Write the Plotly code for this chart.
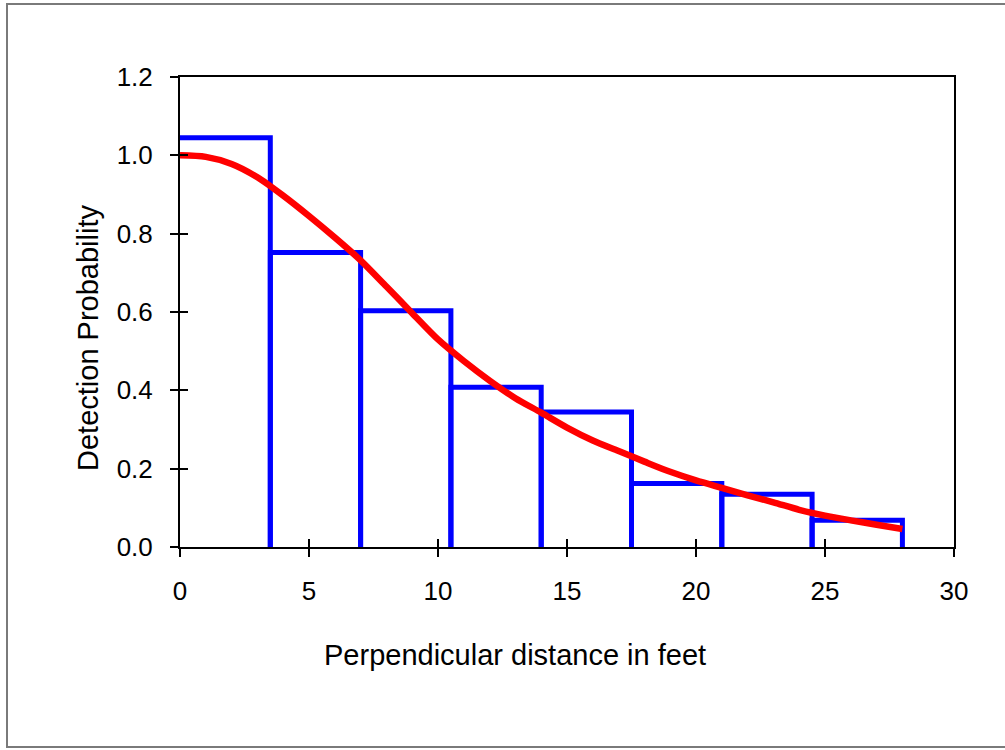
import plotly.graph_objects as go

# Histogram bins (perpendicular distance, feet) and detection proportions
bin_edges = [0, 3.5, 7, 10.5, 14, 17.5, 21, 24.5, 28]
bin_heights = [1.045, 0.752, 0.603, 0.408, 0.345, 0.162, 0.135, 0.068]

# Fitted detection-probability curve
curve_x = [0, 1, 2, 3, 4, 5, 6, 7, 8, 9, 10, 11, 12, 13, 14, 15, 16, 17, 18, 19, 20,
           21, 22, 23, 24, 25, 26, 27, 28]
curve_y = [1.0, 0.996, 0.978, 0.944, 0.897, 0.845, 0.79, 0.732, 0.665, 0.597, 0.53,
           0.475, 0.425, 0.38, 0.343, 0.305, 0.272, 0.245, 0.218, 0.192, 0.17,
           0.151, 0.132, 0.114, 0.095, 0.08, 0.068, 0.057, 0.046]

x_ticks = [0, 5, 10, 15, 20, 25, 30]
y_ticks = [0.0, 0.2, 0.4, 0.6, 0.8, 1.0, 1.2]

# Build histogram outline path (no bottom edge; the edge on the y axis is the axis itself)
hx, hy = [], []
for i, h in enumerate(bin_heights):
    l, r = bin_edges[i], bin_edges[i + 1]
    if l == 0:
        hx += [l, r, r, None]
        hy += [h, h, 0, None]
    else:
        hx += [l, l, r, r, None]
        hy += [0, h, h, 0, None]

fig = go.Figure()
fig.add_trace(go.Scatter(x=hx, y=hy, mode="lines",
                         line=dict(color="#0000ff", width=5),
                         connectgaps=False, hoverinfo="skip", cliponaxis=True))
fig.add_trace(go.Scatter(x=curve_x, y=curve_y, mode="lines",
                         line=dict(color="#ff0000", width=6.5, shape="spline", smoothing=0.8),
                         cliponaxis=False))

font = dict(family="Liberation Sans, Arial, sans-serif", color="black")
W, H = 1005, 750
L, R, T, B = 180, 51, 77, 203
pw, ph = W - L - R, H - T - B

def px(xp):
    return (xp - L) / pw

def py(yp):
    return (H - B - yp) / ph

axis_common = dict(showgrid=False, zeroline=False, showline=True, linecolor="black",
                   linewidth=2, ticks="outside", ticklen=8, tickwidth=2, tickcolor="black",
                   layer="above traces",
                   tickfont=dict(size=26, **font))

fig.update_layout(
    width=W, height=H, autosize=False,
    margin=dict(l=L, r=R, t=T, b=B),
    paper_bgcolor="white", plot_bgcolor="white",
    showlegend=False,
    xaxis=dict(range=[0, 30], tickvals=x_ticks, mirror=True, ticklabelstandoff=12,
               **axis_common),
    yaxis=dict(range=[0, 1.2], tickvals=y_ticks, tickformat=".1f", mirror=True,
               ticklabelstandoff=12, **axis_common),
    xaxis2=dict(range=[0, 30], tickvals=x_ticks, overlaying="x", anchor="y", side="bottom",
                showgrid=False, zeroline=False, showline=False, showticklabels=False,
                ticks="inside", ticklen=8, tickwidth=2, tickcolor="black"),
    yaxis2=dict(range=[0, 1.2], tickvals=y_ticks, overlaying="y", anchor="x", side="left",
                showgrid=False, zeroline=False, showline=False, showticklabels=False,
                ticks="inside", ticklen=8, tickwidth=2, tickcolor="black"),
    annotations=[
        dict(text="Perpendicular distance in feet", xref="paper", yref="paper",
             x=px(515), y=py(655), xanchor="center", yanchor="middle", showarrow=False,
             font=dict(size=29, **font)),
        dict(text="Detection Probability", xref="paper", yref="paper",
             x=px(88), y=py(338), xanchor="center", yanchor="middle", showarrow=False,
             textangle=-90, font=dict(size=29, **font)),
    ],
    shapes=[
        dict(type="rect", xref="paper", yref="paper",
             x0=px(7), x1=px(1012), y0=py(747), y1=py(4),
             line=dict(color="#7a7a7a", width=2), layer="below"),
    ],
)
# invisible trace so the overlay axes (inner tick halves) get drawn
fig.add_trace(go.Scatter(x=[0], y=[0], xaxis="x2", yaxis="y2", mode="markers",
                         marker=dict(opacity=0), hoverinfo="skip"))

fig.write_html("out.html")
